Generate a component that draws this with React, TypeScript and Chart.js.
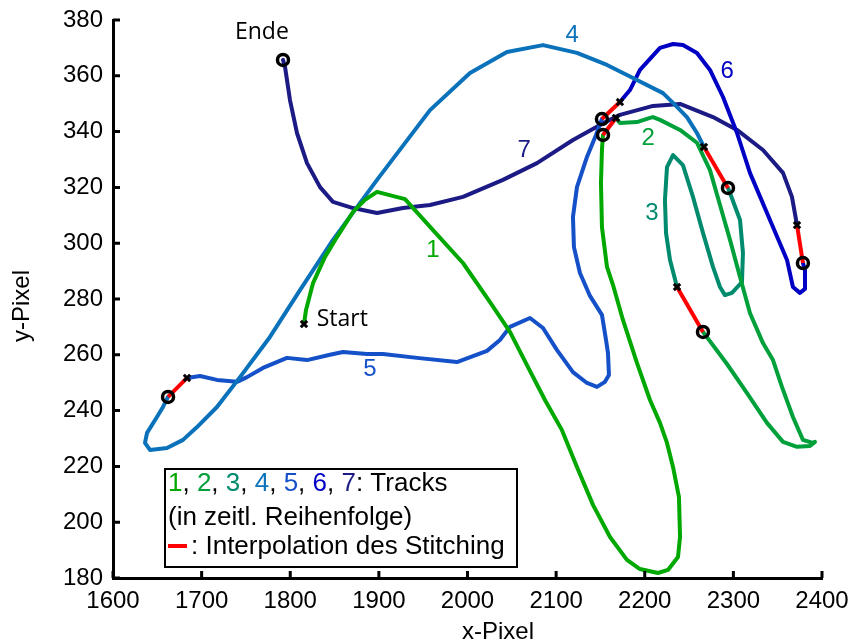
import React, { useEffect, useRef } from "react";
import { Chart, registerables } from "chart.js";

Chart.register(...registerables);

// ---- Data ----
const track1X = [1815.5, 1817.8, 1825.7, 1839.2, 1852.7, 1870.8, 1884.3, 1897.9, 1929.5, 1961.1, 1994.9, 2025.4, 2047.9, 2067.1, 2087.4, 2106.6, 2123.5, 2141.6, 2160.8, 2179.9, 2194.6, 2214.9, 2226.2, 2237.5, 2239.8, 2238.6, 2231.9, 2225.1, 2217.2, 2205.9, 2191.2, 2175.4, 2164.2, 2157.4, 2151.7, 2150.6, 2151.7, 2152.9];
const track1Y = [271.0, 276.1, 285.7, 295.1, 302.2, 311.2, 315.5, 318.4, 315.8, 304.7, 292.9, 278.9, 268.2, 256.3, 243.8, 233.0, 219.8, 206.2, 194.7, 186.5, 183.2, 181.8, 182.9, 187.5, 194.7, 209.0, 219.8, 228.4, 235.6, 243.8, 257.1, 272.5, 285.0, 291.5, 305.8, 321.6, 333.4, 338.8];

const track2X = [2167.5, 2172.0, 2191.2, 2205.9, 2209.3, 2217.2, 2239.8, 2258.9, 2273.6, 2284.9, 2296.2, 2307.5, 2318.7, 2333.4, 2344.7, 2354.8, 2367.2, 2378.5, 2389.8, 2392.1, 2386.4, 2371.8, 2356.0, 2337.9, 2315.4, 2292.8, 2265.7];
const track2Y = [344.9, 343.1, 343.4, 344.9, 345.2, 344.2, 340.6, 336.0, 326.2, 313.7, 301.2, 287.9, 275.0, 264.2, 258.1, 248.5, 237.7, 229.5, 228.4, 228.8, 227.3, 227.0, 228.8, 235.6, 246.3, 256.7, 268.2];

const track3X = [2236.4, 2228.5, 2224.0, 2222.8, 2225.1, 2231.9, 2243.1, 2254.4, 2265.7, 2277.0, 2284.9, 2290.5, 2298.4, 2309.7, 2310.8, 2307.5, 2296.2, 2293.9];
const track3Y = [284.3, 294.0, 303.7, 315.5, 327.3, 331.6, 328.0, 316.6, 303.7, 291.5, 284.3, 281.4, 282.2, 286.1, 296.5, 308.3, 318.0, 319.8];

const track4X = [2266.8, 2258.9, 2247.6, 2231.9, 2220.6, 2186.7, 2157.4, 2123.5, 2085.2, 2044.5, 2002.8, 1957.7, 1897.9, 1848.2, 1811.0, 1777.1, 1743.3, 1717.3, 1694.8, 1679.0, 1660.9, 1641.7, 1636.1, 1638.4, 1649.6, 1656.4, 1662.1];
const track4Y = [334.5, 339.5, 345.2, 350.3, 353.8, 359.2, 363.9, 368.2, 371.0, 368.5, 361.0, 347.7, 322.7, 301.2, 283.2, 266.4, 252.0, 241.3, 234.1, 229.5, 226.6, 225.9, 228.4, 232.0, 237.7, 241.3, 244.9];

const track5X = [1683.5, 1698.2, 1717.3, 1739.9, 1751.2, 1769.2, 1796.3, 1818.9, 1844.8, 1859.5, 1886.6, 1904.6, 1943.0, 1988.1, 2022.0, 2036.6, 2047.9, 2070.5, 2085.2, 2101.0, 2119.0, 2134.8, 2146.1, 2155.1, 2159.6, 2158.5, 2156.3, 2151.7, 2138.2, 2126.9, 2120.1, 2119.0, 2123.5, 2134.8, 2145.0, 2151.7];
const track5Y = [251.7, 252.4, 251.0, 250.3, 252.0, 255.3, 258.9, 258.1, 260.0, 261.0, 260.3, 260.3, 258.9, 257.4, 261.4, 265.3, 270.0, 273.2, 269.6, 261.7, 253.8, 249.9, 248.5, 250.3, 252.8, 260.7, 265.3, 274.3, 281.1, 289.3, 298.6, 309.4, 320.1, 330.9, 338.8, 344.5];

const track6X = [2172.0, 2183.3, 2194.6, 2217.2, 2231.9, 2243.1, 2258.9, 2273.6, 2288.3, 2304.1, 2318.7, 2341.3, 2360.5, 2367.2, 2375.1, 2380.8, 2380.8, 2378.5];
const track6Y = [350.6, 354.9, 362.1, 370.0, 371.4, 371.0, 368.2, 362.1, 352.4, 339.5, 325.2, 308.3, 294.0, 284.3, 282.2, 283.6, 290.4, 292.9];

const track7X = [2371.8, 2366.1, 2356.0, 2333.4, 2304.1, 2277.0, 2239.8, 2209.3, 2172.0, 2149.5, 2119.0, 2078.4, 2040.0, 1994.9, 1957.7, 1927.2, 1897.9, 1870.8, 1848.2, 1833.6, 1818.9, 1807.6, 1799.7, 1794.1, 1791.8];
const track7Y = [306.5, 316.6, 325.2, 333.4, 340.6, 345.2, 349.9, 349.2, 346.0, 342.4, 337.0, 328.7, 322.7, 316.6, 313.7, 312.6, 310.8, 312.6, 314.8, 320.1, 328.7, 339.5, 351.3, 363.2, 365.7];

const trackXs = [track1X, track2X, track3X, track4X, track5X, track6X, track7X];
const trackYs = [track1Y, track2Y, track3Y, track4Y, track5Y, track6Y, track7Y];
const trackColors = ["#00A800", "#00A03A", "#008A6E", "#0A72BA", "#1450C8", "#0000C4", "#1C1A84"];

const trackLabels = ["1", "2", "3", "4", "5", "6", "7"];
const trackLabelX = [1961, 2204, 2208, 2118, 1890, 2293, 2064];
const trackLabelY = [297.6, 337.7, 310.8, 374.6, 254.6, 361.7, 333.4];

const xTicks = [1600, 1700, 1800, 1900, 2000, 2100, 2200, 2300, 2400];
const yTicks = [180, 200, 220, 240, 260, 280, 300, 320, 340, 360, 380];

const legendLine1 = "Tracks";
const legendLine2 = "(in zeitl. Reihenfolge)";
const legendLine3 = ": Interpolation des Stitching";

const FONT = "'Liberation Sans', Arial, sans-serif";

function pts(xs: number[], ys: number[]) {
  return xs.map((x, i) => ({ x, y: ys[i] }));
}

export default function App() {
  const ref = useRef<HTMLCanvasElement>(null);

  useEffect(() => {
    const canvas = ref.current;
    if (!canvas) return;

    const endPts = trackXs.map((xs, i) => ({ x: xs[xs.length - 1], y: trackYs[i][trackYs[i].length - 1] }));
    const startPts = trackXs.map((xs, i) => ({ x: xs[0], y: trackYs[i][0] }));

    const datasets: any[] = [];
    datasets.push({
      data: endPts,
      showLine: false,
      pointStyle: "circle",
      pointRadius: 5.5,
      pointBorderWidth: 3.5,
      pointBorderColor: "#000",
      pointBackgroundColor: "rgba(0,0,0,0)",
    });
    datasets.push({
      data: startPts,
      showLine: false,
      pointStyle: "crossRot",
      pointRadius: 4.5,
      pointBorderWidth: 3,
      pointBorderColor: "#000",
    });
    for (let i = 0; i < 6; i++) {
      datasets.push({
        data: [endPts[i], startPts[i + 1]],
        showLine: true,
        borderColor: "#FF0000",
        borderWidth: 4,
        pointRadius: 0,
      });
    }
    for (let i = 0; i < 7; i++) {
      datasets.push({
        data: pts(trackXs[i], trackYs[i]),
        showLine: true,
        borderColor: trackColors[i],
        borderWidth: 4,
        pointRadius: 0,
        tension: 0,
        borderJoinStyle: "round",
        borderCapStyle: "round",
      });
    }

    const overlay = {
      id: "overlay",
      afterDraw(chart: any) {
        const ctx = chart.ctx;
        const xs = chart.scales.x;
        const ys = chart.scales.y;
        const area = chart.chartArea;
        ctx.save();
        // inward ticks
        ctx.strokeStyle = "#000";
        ctx.lineWidth = 3;
        ctx.beginPath();
        xTicks.forEach((t) => {
          const px = xs.getPixelForValue(t);
          ctx.moveTo(px, area.bottom);
          ctx.lineTo(px, area.bottom - 7);
        });
        yTicks.forEach((t) => {
          const py = ys.getPixelForValue(t);
          ctx.moveTo(area.left, py);
          ctx.lineTo(area.left + 7, py);
        });
        ctx.stroke();

        // track number labels
        ctx.font = `24px ${FONT}`;
        ctx.textAlign = "center";
        ctx.textBaseline = "middle";
        trackLabels.forEach((t, i) => {
          ctx.fillStyle = trackColors[i];
          ctx.fillText(t, xs.getPixelForValue(trackLabelX[i]), ys.getPixelForValue(trackLabelY[i]));
        });

        // Start / Ende
        ctx.fillStyle = "#000";
        ctx.font = `23px 'Open Sans', sans-serif`;
        ctx.textAlign = "left";
        ctx.fillText("Start", xs.getPixelForValue(1829.8), ys.getPixelForValue(272.5));
        ctx.textAlign = "center";
        ctx.fillText("Ende", xs.getPixelForValue(1768), ys.getPixelForValue(375.7));

        // legend box
        const bx = 165, by = 469, bw = 352, bh = 98;
        ctx.fillStyle = "#fff";
        ctx.fillRect(bx, by, bw, bh);
        ctx.lineWidth = 2;
        ctx.strokeStyle = "#000";
        ctx.strokeRect(bx, by, bw, bh);
        ctx.font = `26px ${FONT}`;
        ctx.textAlign = "left";
        ctx.textBaseline = "alphabetic";
        let cx = 168;
        const base1 = 491;
        trackLabels.forEach((t, i) => {
          ctx.fillStyle = trackColors[i];
          ctx.fillText(t, cx, base1);
          cx += ctx.measureText(t).width;
          ctx.fillStyle = "#000";
          const sep = i < 6 ? ", " : ": ";
          ctx.fillText(sep, cx, base1);
          cx += ctx.measureText(sep).width;
        });
        ctx.fillStyle = "#000";
        ctx.fillText(legendLine1, cx, base1);
        ctx.fillText(legendLine2, 168, 525);
        ctx.strokeStyle = "#FF0000";
        ctx.lineWidth = 4;
        ctx.beginPath();
        ctx.moveTo(168, 546);
        ctx.lineTo(187, 546);
        ctx.stroke();
        ctx.fillStyle = "#000";
        ctx.fillText(legendLine3, 191, 554);

        // axis titles
        ctx.font = `24px ${FONT}`;
        ctx.textAlign = "center";
        ctx.textBaseline = "alphabetic";
        ctx.fillText("x-Pixel", 498, 639);
        ctx.translate(29, 306);
        ctx.rotate(-Math.PI / 2);
        ctx.fillText("y-Pixel", 0, 0);
        ctx.restore();
      },
    };

    const chart = new Chart(canvas, {
      type: "scatter",
      data: { datasets },
      options: {
        animation: false,
        responsive: false,
        events: [],
        layout: { padding: { left: 0, right: 29, top: 20, bottom: 0 } },
        plugins: { legend: { display: false }, tooltip: { enabled: false } },
        scales: {
          x: {
            type: "linear",
            min: 1600,
            max: 2400,
            afterFit: (s: any) => { s.height = 66; s.paddingRight = 0; s.paddingLeft = 0; },
            afterBuildTicks: (s: any) => { s.ticks = xTicks.map((v) => ({ value: v })); },
            grid: { display: false, drawTicks: false },
            border: { display: true, color: "#000", width: 3 },
            ticks: { color: "#000", font: { size: 24, family: FONT }, padding: 9, maxRotation: 0, autoSkip: false, callback: (v: any) => String(v) },
          },
          y: {
            type: "linear",
            min: 180,
            max: 380,
            afterFit: (s: any) => { s.width = 113; s.paddingTop = 0; s.paddingBottom = 0; },
            afterBuildTicks: (s: any) => { s.ticks = yTicks.map((v) => ({ value: v })); },
            grid: { display: false, drawTicks: false },
            border: { display: true, color: "#000", width: 3 },
            ticks: { color: "#000", font: { size: 24, family: FONT }, padding: 10, autoSkip: false, callback: (v: any) => String(v) },
          },
        },
      },
      plugins: [overlay],
    });
    return () => chart.destroy();
  }, []);

  return (
    <div style={{ position: "absolute", left: 0, top: 0, width: 851, height: 644, background: "#fff" }}>
      <canvas ref={ref} width={851} height={644} style={{ display: "block" }} />
    </div>
  );
}
